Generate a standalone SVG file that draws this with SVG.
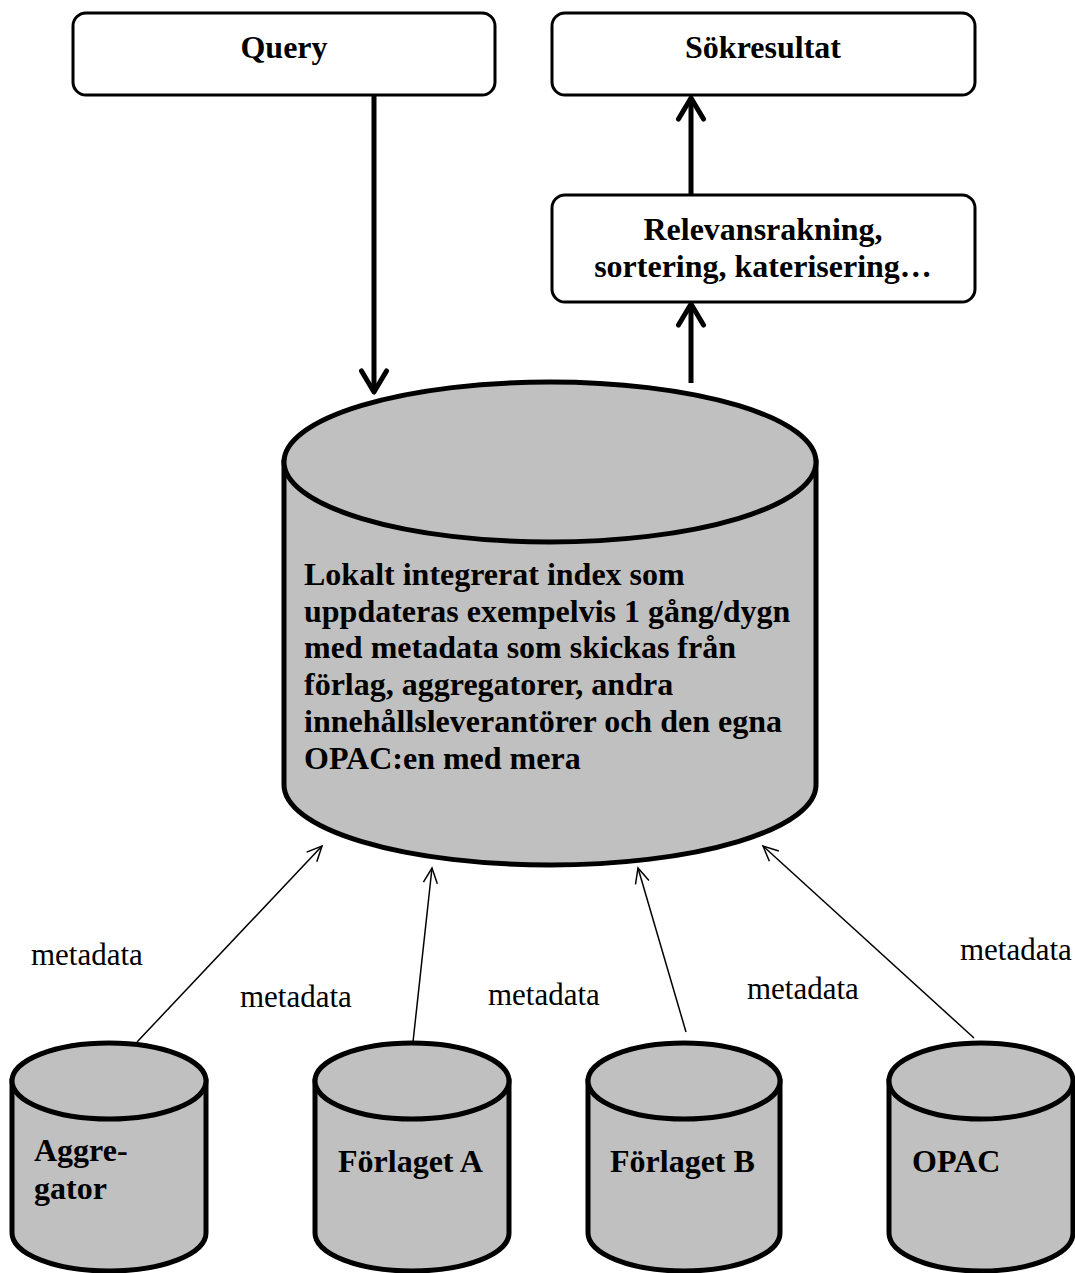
<svg xmlns="http://www.w3.org/2000/svg" width="1075" height="1273" viewBox="0 0 1075 1273">
<style>
.box{fill:#fff;stroke:#000;stroke-width:3}
.cyl{fill:#c0c0c0;stroke:#000;stroke-width:5}
.b{font-family:"Liberation Serif","Times New Roman",serif;font-weight:bold;font-size:32px;fill:#000}
.r{font-family:"Liberation Serif","Times New Roman",serif;font-size:31px;fill:#000}
.thick{stroke:#000;stroke-width:5;fill:none}
.thin{stroke:#000;stroke-width:1.5;fill:none}
</style>
<defs>
<marker id="hThick" markerUnits="userSpaceOnUse" markerWidth="40" markerHeight="40" viewBox="-30 -20 40 40" refX="0" refY="0" orient="auto">
<path d="M-21,-12.5 L0,0 L-21,12.5" fill="none" stroke="#000" stroke-width="5" stroke-linecap="round" stroke-linejoin="round"/>
</marker>
<marker id="hThin" markerUnits="userSpaceOnUse" markerWidth="30" markerHeight="30" viewBox="-20 -15 30 30" refX="0" refY="0" orient="auto">
<path d="M-15,-7 L0,0 L-15,7" fill="none" stroke="#000" stroke-width="1.5"/>
</marker>
</defs>

<g id="query">
<rect class="box" x="73" y="13" width="422" height="82" rx="13"/>
<text class="b" x="284" y="58" text-anchor="middle">Query</text>
</g>
<g id="sokresultat">
<rect class="box" x="552" y="13" width="423" height="82" rx="13"/>
<text class="b" x="763" y="58" text-anchor="middle">Sökresultat</text>
</g>
<g id="relevans">
<rect class="box" x="552" y="195" width="423" height="107" rx="13"/>
<text class="b" x="763" y="240" text-anchor="middle">Relevansrakning,</text>
<text class="b" x="763" y="277" text-anchor="middle">sortering, katerisering…</text>
</g>

<g id="index">
<path class="cyl" d="M284,462 L284,785 A266,80 0 0 0 816,785 L816,462 Z"/>
<ellipse class="cyl" cx="550" cy="462" rx="266" ry="80"/>
<text class="b" x="304" y="585">Lokalt integrerat index som</text>
<text class="b" x="304" y="622">uppdateras exempelvis 1 gång/dygn</text>
<text class="b" x="304" y="658">med metadata som skickas från</text>
<text class="b" x="304" y="695">förlag, aggregatorer, andra</text>
<text class="b" x="304" y="732">innehållsleverantörer och den egna</text>
<text class="b" x="304" y="769">OPAC:en med mera</text>
</g>

<g id="aggregator">
<path class="cyl" d="M12,1081 L12,1233 A97,38 0 0 0 206,1233 L206,1081 Z"/>
<ellipse class="cyl" cx="109" cy="1081" rx="97" ry="38"/>
<text class="b" x="34" y="1161">Aggre-</text>
<text class="b" x="34" y="1199">gator</text>
</g>
<g id="forlagetA">
<path class="cyl" d="M315,1081 L315,1233 A97,38 0 0 0 509,1233 L509,1081 Z"/>
<ellipse class="cyl" cx="412" cy="1081" rx="97" ry="38"/>
<text class="b" x="338" y="1172">Förlaget A</text>
</g>
<g id="forlagetB">
<path class="cyl" d="M588,1081 L588,1233 A96,38 0 0 0 780,1233 L780,1081 Z"/>
<ellipse class="cyl" cx="684" cy="1081" rx="96" ry="38"/>
<text class="b" x="610" y="1172">Förlaget B</text>
</g>
<g id="opac">
<path class="cyl" d="M889,1081 L889,1233 A92,38 0 0 0 1073,1233 L1073,1081 Z"/>
<ellipse class="cyl" cx="981" cy="1081" rx="92" ry="38"/>
<text class="b" x="912" y="1172">OPAC</text>
</g>

<g id="connectors">
<line class="thick" x1="374" y1="95" x2="374" y2="392" marker-end="url(#hThick)"/>
<line class="thick" x1="691" y1="383" x2="691" y2="304" marker-end="url(#hThick)"/>
<line class="thick" x1="691" y1="195" x2="691" y2="98" marker-end="url(#hThick)"/>
<line class="thin" x1="137" y1="1042" x2="322" y2="846" marker-end="url(#hThin)"/>
<line class="thin" x1="413" y1="1042" x2="432" y2="868" marker-end="url(#hThin)"/>
<line class="thin" x1="686" y1="1032" x2="638" y2="868" marker-end="url(#hThin)"/>
<line class="thin" x1="974" y1="1038" x2="763" y2="846" marker-end="url(#hThin)"/>
<text class="r" x="31" y="965">metadata</text>
<text class="r" x="240" y="1007">metadata</text>
<text class="r" x="488" y="1005">metadata</text>
<text class="r" x="747" y="999">metadata</text>
<text class="r" x="960" y="960">metadata</text>
</g>
</svg>
